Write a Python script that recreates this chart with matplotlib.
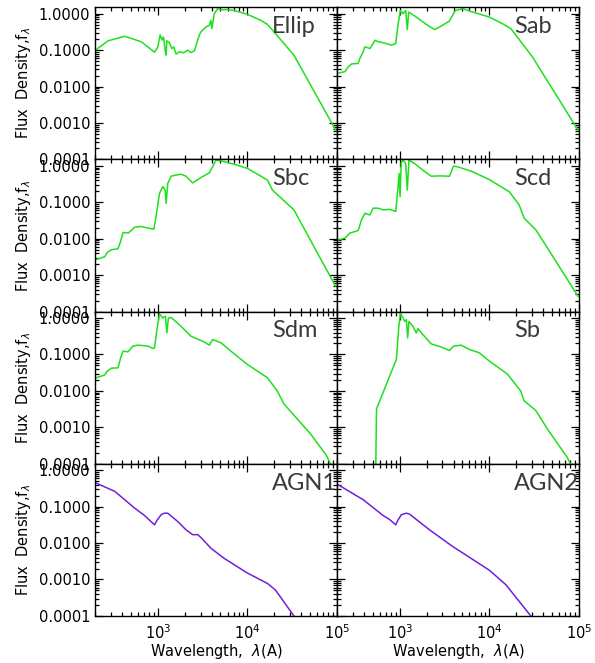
import numpy as np
import matplotlib
matplotlib.use("Agg")
import matplotlib.pyplot as plt
from matplotlib.ticker import LogLocator, FixedLocator, NullFormatter

# template spectra (wavelength in A, normalised flux)
ellip_w = [206, 278, 427, 653, 918, 1000, 1061, 1117, 1156, 1206, 1238, 1259, 1348, 1430,
           1505, 1600, 1741, 1946, 2154, 2344, 2560, 2670, 2902, 3030, 3440, 3750, 3910,
           4010, 4260, 4640, 5050, 5990, 7110, 10000, 14080, 16700, 19800, 33000, 95700]
ellip_f = [0.104, 0.18, 0.24, 0.17, 0.088, 0.123, 0.26, 0.19, 0.23, 0.1, 0.073, 0.18, 0.16,
           0.11, 0.123, 0.078, 0.09, 0.085, 0.1, 0.086, 0.096, 0.137, 0.257, 0.32, 0.43,
           0.48, 0.66, 0.39, 1.0, 1.37, 1.29, 1.29, 1.23, 0.96, 0.66, 0.51, 0.316, 0.073,
           6.6e-4]

sab_w = [198, 245, 267, 291, 344, 359, 391, 409, 465, 505, 528, 575, 653, 807, 903, 955,
         1017, 1089, 1166, 1216, 1259, 1348, 1531, 1978, 2448, 2783, 3593, 3981, 4190, 5060,
         6530, 10000, 14060, 17400, 19780, 30200, 98000]
sab_f = [0.023, 0.0257, 0.035, 0.042, 0.043, 0.059, 0.09, 0.123, 0.111, 0.152, 0.187, 0.17,
         0.16, 0.137, 0.152, 0.48, 1.23, 1.0, 1.23, 0.366, 1.11, 1.0, 0.81, 0.51, 0.366,
         0.43, 0.63, 1.0, 1.23, 1.37, 1.11, 0.81, 0.53, 0.39, 0.257, 0.066, 6.3e-4]

sbc_w = [206, 255, 273, 303, 359, 385, 409, 465, 505, 551, 653, 774, 903, 942, 1044, 1137,
         1206, 1238, 1291, 1406, 1600, 1817, 2065, 2448, 3030, 3750, 4080, 4450, 5060, 7110,
         10000, 16700, 18970, 33000, 95700]
sbc_f = [0.0027, 0.0032, 0.0042, 0.005, 0.0053, 0.0085, 0.0149, 0.0143, 0.0168, 0.0207,
         0.0217, 0.0196, 0.0184, 0.033, 0.176, 0.27, 0.22, 0.094, 0.33, 0.52, 0.56, 0.59,
         0.52, 0.34, 0.48, 0.64, 0.94, 1.43, 1.37, 1.11, 0.85, 0.41, 0.217, 0.062, 5.1e-4]

scd_w = [198, 245, 278, 344, 375, 409, 465, 505, 575, 653, 774, 903, 955, 985, 1010, 1040,
         1089, 1166, 1216, 1268, 1468, 1817, 2246, 2783, 3593, 3981, 4450, 6530, 10000,
         16700, 21500, 24400, 33000, 44500, 98000]
scd_f = [0.009, 0.0104, 0.0143, 0.0168, 0.033, 0.05, 0.045, 0.069, 0.069, 0.062, 0.064,
         0.056, 0.24, 0.62, 0.143, 1.23, 1.43, 1.16, 0.217, 1.43, 1.16, 0.76, 0.52, 0.53,
         0.52, 0.98, 0.94, 0.69, 0.42, 0.195, 0.085, 0.037, 0.0176, 0.0056, 2.6e-4]

sdm_w = [206, 255, 273, 303, 359, 385, 409, 465, 528, 599, 774, 880, 918, 983, 1044, 1137,
         1216, 1259, 1313, 1406, 1817, 2344, 3300, 3750, 4080, 5050, 7110, 10000, 16700,
         21500, 25500, 50600, 76000, 92000]
sdm_f = [0.023, 0.0273, 0.035, 0.042, 0.043, 0.081, 0.123, 0.118, 0.169, 0.18, 0.17, 0.146,
         0.152, 0.53, 1.29, 1.0, 1.11, 0.39, 1.0, 1.04, 0.59, 0.316, 0.22, 0.18, 0.257, 0.21,
         0.104, 0.053, 0.023, 0.01, 0.0044, 6.6e-4, 1.7e-4, 6.5e-5]

sb_w = [528, 551, 918, 974, 1017, 1089, 1137, 1186, 1227, 1268, 1406, 1531, 1600, 1817,
        2246, 2902, 3593, 3981, 4840, 6000, 7730, 10000, 16000, 22400, 24400, 33000, 44500,
        74000, 84000]
sb_f = [1e-6, 0.0032, 0.073, 0.53, 1.37, 1.0, 0.81, 0.9, 0.285, 0.81, 0.59, 0.39, 0.51,
        0.35, 0.195, 0.16, 0.128, 0.169, 0.18, 0.137, 0.111, 0.066, 0.0285, 0.01, 0.0054,
        0.0029, 9e-4, 1.5e-4, 8e-5]

agn1_w = [206, 330, 551, 711, 918, 984, 1089, 1186, 1291, 1668, 2065, 2448, 2783, 3030,
          3914, 5500, 10000, 16700, 20600, 33000, 38900]
agn1_f = [0.44, 0.263, 0.091, 0.057, 0.0316, 0.043, 0.06, 0.066, 0.066, 0.039, 0.023,
          0.017, 0.017, 0.0142, 0.0072, 0.0038, 0.0015, 7.8e-4, 5.1e-4, 1.0e-4, 5.4e-5]

agn2_w = [198, 391, 653, 774, 903, 958, 1044, 1186, 1291, 2154, 3914, 10000, 15300, 29000,
          34400]
agn2_f = [0.42, 0.155, 0.057, 0.044, 0.0316, 0.043, 0.06, 0.066, 0.062, 0.023, 0.008,
          0.0018, 7.2e-4, 1.0e-4, 6e-5]

names = ["Ellip", "Sab", "Sbc", "Scd", "Sdm", "Sb", "AGN1", "AGN2"]
waves = [ellip_w, sab_w, sbc_w, scd_w, sdm_w, sb_w, agn1_w, agn2_w]
fluxes = [ellip_f, sab_f, sbc_f, scd_f, sdm_f, sb_f, agn1_f, agn2_f]

ytick_vals = [1e-4, 1e-3, 1e-2, 1e-1, 1.0]
ytick_labels = ["0.0001", "0.0010", "0.0100", "0.1000", "1.0000"]
xtick_vals = [1e3, 1e4, 1e5]
xtick_labels = ["$10^3$", "$10^4$", "$10^5$"]

green = "#1ee01e"
purple = "#7020d8"

fig, axes = plt.subplots(4, 2, figsize=(5.95, 6.63), dpi=100)
fig.subplots_adjust(left=0.160, right=0.973, bottom=0.071, top=0.989,
                    hspace=0, wspace=0)

for i, ax in enumerate(axes.flat):
    col = purple if names[i].startswith("AGN") else green
    ax.plot(waves[i], fluxes[i], color=col, lw=1.1)
    ax.set_xscale("log")
    ax.set_yscale("log")
    ax.set_xlim(200, 1e5)
    ax.set_ylim(1e-4, 1.5)

    ax.yaxis.set_major_locator(FixedLocator(ytick_vals))
    ax.yaxis.set_minor_locator(LogLocator(base=10, subs=np.arange(2, 10)))
    ax.yaxis.set_minor_formatter(NullFormatter())
    ax.xaxis.set_major_locator(FixedLocator(xtick_vals))
    ax.xaxis.set_minor_locator(LogLocator(base=10, subs=np.arange(2, 10)))
    ax.xaxis.set_minor_formatter(NullFormatter())
    ax.tick_params(which="both", direction="in", top=True, right=True, width=0.9)
    ax.tick_params(which="major", length=5.5, labelsize=10.5)
    ax.tick_params(which="minor", length=2.8)

    r, c = divmod(i, 2)
    if c == 0:
        ax.set_yticklabels(ytick_labels)
        ax.set_ylabel("Flux  Density,f$_\\lambda$", fontsize=10.5, labelpad=4)
    else:
        ax.set_yticklabels([])
    if r == 3:
        ax.set_xticklabels(xtick_labels)
        ax.set_xlabel("Wavelength,  $\\lambda$(A)", fontsize=10.5, labelpad=0)
        ax.tick_params(axis="x", pad=5)
    else:
        ax.set_xticklabels([])

    for sp in ax.spines.values():
        sp.set_linewidth(1.0)

    ax.text(0.732, 0.83, names[i], transform=ax.transAxes, fontsize=17,
            family=["Lato", "DejaVu Sans"], color="#3a3a3a",
            ha="left", va="baseline")

fig.savefig("out.png", dpi=100)
